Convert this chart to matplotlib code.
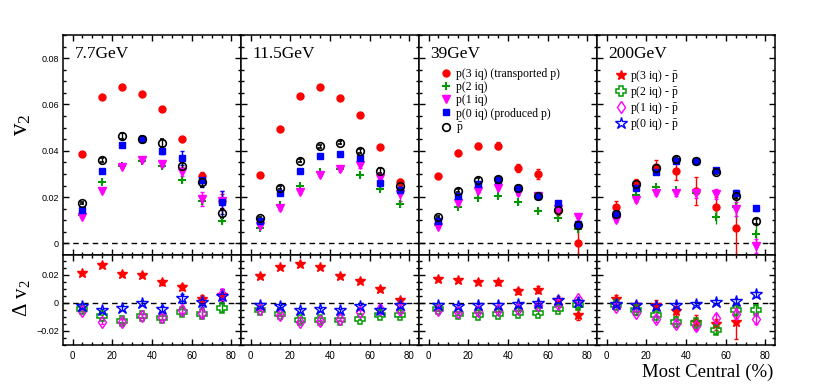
import matplotlib
matplotlib.use('Agg')
import matplotlib.pyplot as plt
from matplotlib.lines import Line2D
from matplotlib.ticker import MultipleLocator
import numpy as np

plt.rcParams['font.family'] = ['Liberation Serif', 'DejaVu Serif']
plt.rcParams['mathtext.fontset'] = 'custom'
plt.rcParams['mathtext.rm'] = 'Liberation Serif'
plt.rcParams['mathtext.it'] = 'Liberation Serif:italic'

# centrality bins (most central %)
cent = [5, 15, 25, 35, 45, 55, 65, 75]
energies = ['7.7GeV', '11.5GeV', '39GeV', '200GeV']
nan = np.nan

# ---- v2 (top row), one list per energy ----
v2_p3iq = [[0.0388, 0.0631, 0.0675, 0.0647, 0.0581, 0.0453, 0.0293, 0.0185],
           [0.0295, 0.0496, 0.0637, 0.0676, 0.0627, 0.0554, 0.0415, 0.0267],
           [0.0291, 0.0392, 0.0421, 0.0422, 0.0326, 0.0301, 0.0144, 0.0000],
           [0.0159, 0.0259, 0.0329, 0.0314, 0.0228, 0.0159, 0.0068, nan]]
v2_p3iq_err = [[0.0005, 0.0005, 0.0005, 0.0006, 0.0007, 0.0008, 0.0015, 0.003],
               [0.0004, 0.0004, 0.0004, 0.0005, 0.0005, 0.0006, 0.0008, 0.0012],
               [0.0008, 0.0010, 0.0012, 0.0014, 0.0018, 0.0022, 0.0020, 0.011],
               [0.0025, 0.0020, 0.0030, 0.0040, 0.0060, 0.0040, 0.0130, nan]]
v2_p2iq = [[0.0123, 0.0267, 0.0336, 0.0355, 0.0336, 0.0274, 0.0183, 0.0098],
           [0.0068, 0.0166, 0.0249, 0.0307, 0.0323, 0.0294, 0.0235, 0.0169],
           [0.0078, 0.0159, 0.0197, 0.0205, 0.0177, 0.0141, 0.0111, 0.0061],
           [0.0123, 0.0209, 0.0242, 0.0231, 0.0219, 0.0115, 0.0159, 0.0040]]
v2_p2iq_err = [[0.0005, 0.0006, 0.0008, 0.0008, 0.0010, 0.0012, 0.0020, 0.0015],
               [0.0004, 0.0005, 0.0006, 0.0006, 0.0007, 0.0008, 0.0010, 0.0012],
               [0.0005, 0.0006, 0.0007, 0.0008, 0.0009, 0.0010, 0.0012, 0.0015],
               [0.0010, 0.0010, 0.0010, 0.0010, 0.0020, 0.0030, 0.0050, 0.0040]]
v2_p1iq = [[0.0115, 0.0228, 0.0332, 0.0360, 0.0343, 0.0310, 0.0190, 0.0185],
           [0.0075, 0.0151, 0.0223, 0.0297, 0.0321, 0.0339, 0.0281, 0.0212],
           [0.0072, 0.0173, 0.0226, 0.0241, 0.0219, 0.0205, 0.0147, 0.0112],
           [0.0101, 0.0187, 0.0219, 0.0216, 0.0216, 0.0213, 0.0147, -0.0012]]
v2_p1iq_err = [[0.0005, 0.0006, 0.0008, 0.0010, 0.0015, 0.0020, 0.0030, 0.0040],
               [0.0004, 0.0005, 0.0006, 0.0007, 0.0008, 0.0015, 0.0020, 0.0030],
               [0.0005, 0.0006, 0.0007, 0.0008, 0.0009, 0.0010, 0.0012, 0.0015],
               [0.0010, 0.0010, 0.0010, 0.0010, 0.0020, 0.0020, 0.0030, 0.0030]]
v2_p0iq = [[0.0144, 0.0311, 0.0427, 0.0450, 0.0399, 0.0368, 0.0274, 0.0177],
           [0.0095, 0.0216, 0.0313, 0.0379, 0.0385, 0.0368, 0.0259, 0.0231],
           [0.0098, 0.0206, 0.0255, 0.0274, 0.0238, 0.0205, 0.0173, 0.0084],
           [0.0125, 0.0238, 0.0307, 0.0357, 0.0355, 0.0319, 0.0219, 0.0151]]
v2_p0iq_err = [[0.0005, 0.0006, 0.0008, 0.0010, 0.0015, 0.0030, 0.0030, 0.0050],
               [0.0004, 0.0005, 0.0006, 0.0006, 0.0007, 0.0008, 0.0010, 0.0015],
               [0.0005, 0.0006, 0.0007, 0.0008, 0.0009, 0.0010, 0.0010, 0.0012],
               [0.0005, 0.0005, 0.0006, 0.0006, 0.0007, 0.0008, 0.0010, 0.0012]]
v2_pbar = [[0.0176, 0.0360, 0.0464, 0.0450, 0.0435, 0.0336, 0.0264, 0.0130],
           [0.0108, 0.0241, 0.0357, 0.0419, 0.0435, 0.0398, 0.0314, 0.0249],
           [0.0115, 0.0228, 0.0274, 0.0278, 0.0241, 0.0205, 0.0144, 0.0078],
           [0.0125, 0.0255, 0.0324, 0.0366, 0.0357, 0.0308, 0.0205, 0.0095]]
v2_pbar_err = [[0.0005, 0.0008, 0.0012, 0.0012, 0.0018, 0.0015, 0.0020, 0.0020],
               [0.0004, 0.0005, 0.0006, 0.0006, 0.0007, 0.0008, 0.0010, 0.0012],
               [0.0005, 0.0006, 0.0007, 0.0008, 0.0009, 0.0010, 0.0010, 0.0012],
               [0.0005, 0.0005, 0.0006, 0.0006, 0.0007, 0.0008, 0.0010, 0.0012]]

# ---- delta v2 = v2(p) - v2(pbar) (bottom row) ----
dv2_p3iq = [[0.0212, 0.0270, 0.0207, 0.0198, 0.0145, 0.0113, 0.0024, 0.0055],
            [0.0188, 0.0255, 0.0275, 0.0253, 0.0188, 0.0157, 0.0099, 0.0022],
            [0.0171, 0.0164, 0.0147, 0.0145, 0.0084, 0.0092, 0.0019, -0.0084],
            [0.0024, -0.0017, -0.0012, -0.0058, -0.0137, -0.0154, -0.0137, nan]]
dv2_p3iq_err = [[0.0010, 0.0010, 0.0010, 0.0012, 0.0015, 0.0020, 0.0030, 0.0040],
                [0.0008, 0.0008, 0.0008, 0.0008, 0.0009, 0.0010, 0.0012, 0.0015],
                [0.0010, 0.0010, 0.0012, 0.0015, 0.0020, 0.0025, 0.0030, 0.0040],
                [0.0030, 0.0025, 0.0030, 0.0035, 0.0050, 0.0040, 0.0120, nan]]
dv2_p2iq = [[-0.0046, -0.0096, -0.0128, -0.0096, -0.0106, -0.0067, -0.0077, -0.0034],
            [-0.0053, -0.0077, -0.0120, -0.0120, -0.0120, -0.0113, -0.0084, -0.0089],
            [-0.0041, -0.0077, -0.0084, -0.0077, -0.0070, -0.0070, -0.0041, -0.0019],
            [-0.0012, -0.0048, -0.0084, -0.0133, -0.0142, -0.0193, -0.0053, -0.0053]]
dv2_p2iq_err = [[0.0010, 0.0012, 0.0015, 0.0015, 0.0015, 0.0020, 0.0030, 0.0030],
                [0.0008, 0.0008, 0.0009, 0.0010, 0.0010, 0.0010, 0.0012, 0.0015],
                [0.0008, 0.0009, 0.0010, 0.0010, 0.0012, 0.0012, 0.0015, 0.0020],
                [0.0015, 0.0015, 0.0020, 0.0020, 0.0025, 0.0030, 0.0040, 0.0040]]
dv2_p1iq = [[-0.0060, -0.0137, -0.0133, -0.0096, -0.0101, -0.0048, -0.0072, 0.0060],
            [-0.0043, -0.0089, -0.0137, -0.0130, -0.0118, -0.0065, -0.0041, -0.0048],
            [-0.0053, -0.0065, -0.0060, -0.0053, -0.0041, -0.0017, -0.0005, 0.0024],
            [-0.0029, -0.0072, -0.0113, -0.0149, -0.0166, -0.0106, -0.0077, -0.0113]]
dv2_p1iq_err = [[0.0010, 0.0012, 0.0015, 0.0015, 0.0020, 0.0025, 0.0030, 0.0040],
                [0.0008, 0.0008, 0.0009, 0.0010, 0.0010, 0.0015, 0.0020, 0.0020],
                [0.0008, 0.0009, 0.0010, 0.0010, 0.0012, 0.0012, 0.0015, 0.0020],
                [0.0015, 0.0015, 0.0020, 0.0020, 0.0025, 0.0030, 0.0040, 0.0040]]
dv2_p0iq = [[-0.0024, -0.0053, -0.0036, 0.0000, -0.0041, 0.0031, 0.0007, 0.0048],
            [-0.0012, -0.0022, -0.0053, -0.0046, -0.0053, -0.0024, -0.0053, -0.0019],
            [-0.0017, -0.0024, -0.0019, -0.0012, -0.0010, 0.0000, 0.0019, 0.0007],
            [-0.0005, -0.0017, -0.0024, -0.0017, -0.0005, 0.0007, 0.0014, 0.0060]]
dv2_p0iq_err = [[0.0010, 0.0012, 0.0015, 0.0015, 0.0020, 0.0030, 0.0040, 0.0050],
                [0.0008, 0.0008, 0.0009, 0.0010, 0.0010, 0.0010, 0.0012, 0.0015],
                [0.0008, 0.0009, 0.0010, 0.0010, 0.0012, 0.0012, 0.0015, 0.0020],
                [0.0010, 0.0010, 0.0010, 0.0010, 0.0012, 0.0012, 0.0015, 0.0020]]

RED, GREEN, MAG, BLUE = '#ff0000', '#009a00', '#ff00ff', '#0000ff'
PBAR = r'$\bar{\mathrm{p}}$'   # anti-proton

top_series = [
    (v2_p3iq, v2_p3iq_err, dict(marker='o', color=RED, ms=5), 'p(3 iq) (transported p)'),
    (v2_p2iq, v2_p2iq_err, dict(marker='P', color=GREEN, ms=5.5, mew=0), 'p(2 iq)'),
    (v2_p1iq, v2_p1iq_err, dict(marker='v', color=MAG, ms=5.5), 'p(1 iq)'),
    (v2_p0iq, v2_p0iq_err, dict(marker='s', color=BLUE, ms=4.5), 'p(0 iq) (produced p)'),
    (v2_pbar, v2_pbar_err, dict(marker='o', color='black', mfc='none', ms=5.5, mew=1.2), PBAR),
]
bot_series = [
    (dv2_p3iq, dv2_p3iq_err, dict(marker='*', color=RED, ms=7), 'p(3 iq) - ' + PBAR),
    (dv2_p2iq, dv2_p2iq_err, dict(marker='P', color=GREEN, mfc='none', ms=7.5, mew=1.1), 'p(2 iq) - ' + PBAR),
    (dv2_p1iq, dv2_p1iq_err, dict(marker='d', color=MAG, mfc='none', ms=6.5, mew=1.0), 'p(1 iq) - ' + PBAR),
    (dv2_p0iq, dv2_p0iq_err, dict(marker='*', color=BLUE, mfc='none', ms=9, mew=1.0), 'p(0 iq) - ' + PBAR),
]

fig = plt.figure(figsize=(8.17, 3.92), dpi=100)
left, pw = 63 / 817, 178 / 817
top_b, top_h = 1 - 255 / 392, 220 / 392
bot_b, bot_h = 1 - 345 / 392, 90 / 392


def fmt_tick(v, pos):
    if abs(v) < 1e-9:
        return '0'
    return f'{v:.2f}'.replace('-', '\u2212')


def style_axis(ax, show_y, show_x):
    ax.set_xlim(-4.8, 84.8)
    ax.xaxis.set_major_locator(MultipleLocator(20))
    ax.xaxis.set_minor_locator(MultipleLocator(5))
    ax.yaxis.set_major_locator(MultipleLocator(0.02))
    ax.yaxis.set_minor_locator(MultipleLocator(0.005))
    ax.yaxis.set_major_formatter(plt.FuncFormatter(fmt_tick))
    ax.tick_params(which='both', direction='in', top=True, right=True, width=1.0)
    ax.tick_params(which='major', length=4.5)
    ax.tick_params(which='minor', length=2.3)
    ax.tick_params(axis='y', labelleft=show_y, labelsize=6.5, pad=3)
    ax.tick_params(axis='x', labelbottom=show_x, labelsize=7, pad=4)
    for lab in ax.get_xticklabels() + ax.get_yticklabels():
        lab.set_fontfamily('Liberation Sans')
    for sp in ax.spines.values():
        sp.set_linewidth(1.1)
    ax.axhline(0, color='black', ls=(0, (4, 3)), lw=1.0, zorder=1)


for i, energy in enumerate(energies):
    ax = fig.add_axes([left + i * pw, top_b, pw, top_h])
    for vals, errs, st, lab in top_series:
        ax.errorbar(cent, vals[i], yerr=errs[i], ls='none', capsize=1.5,
                    elinewidth=1.0, capthick=1.0, zorder=3, **st)
    ax.set_ylim(-0.005, 0.09)
    style_axis(ax, i == 0, False)
    ax.text(0.065, 0.95, energy, transform=ax.transAxes, ha='left', va='top', fontsize=12.5)
    if i == 2:
        handles = [Line2D([], [], ls='none', **st) for _, _, st, _ in top_series]
        ax.legend(handles, [s[3] for s in top_series], loc='upper left',
                  bbox_to_anchor=(0.12, 0.85), frameon=False, fontsize=8.5,
                  handlelength=1.0, handletextpad=0.3, labelspacing=0.1,
                  borderaxespad=0, borderpad=0)

    axb = fig.add_axes([left + i * pw, bot_b, pw, bot_h])
    for vals, errs, st, lab in bot_series:
        axb.errorbar(cent, vals[i], yerr=errs[i], ls='none', capsize=1.5,
                     elinewidth=1.0, capthick=1.0, zorder=3, **st)
    axb.set_ylim(-0.030, 0.034)
    style_axis(axb, i == 0, True)
    if i == 3:
        handles = [Line2D([], [], ls='none', **st) for _, _, st, _ in bot_series]
        ax.legend(handles, [s[3] for s in bot_series], loc='upper left',
                  bbox_to_anchor=(0.1, 0.85), frameon=False, fontsize=8.5,
                  handlelength=1.0, handletextpad=0.3, labelspacing=0.0,
                  borderaxespad=0, borderpad=0)

fig.text(22 / 817, 1 - 125 / 392, r'v$_2$', rotation=90, ha='center', va='center', fontsize=18)
fig.text(22 / 817, 1 - 298 / 392, r'$\Delta$ v$_2$', rotation=90, ha='center', va='center', fontsize=15)
fig.text(773 / 817, 1 - 372 / 392, 'Most Central (%)', ha='right', va='center', fontsize=13.5)

fig.savefig('out.png', dpi=100)
